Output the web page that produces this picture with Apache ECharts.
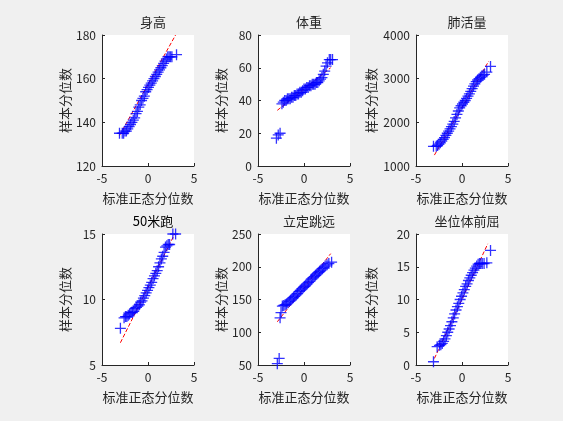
<!DOCTYPE html><html><head><meta charset="utf-8">
<script src="https://cdn.jsdelivr.net/npm/echarts@6/dist/echarts.min.js"></script>
<style>body{margin:0;background:#f0f0f0}#c{width:563px;height:421px}</style></head><body><div id="c"></div>
<script>
const titles=['身高','体重','肺活量','50米跑','立定跳远','坐位体前屈'];
const yRanges=[[120,180,20],[0,80,20],[1000,4000,1000],[5,15,5],[50,250,50],[0,20,5]];
const qx1=[-3.1,-2.8,-2.65,-2.5,-2.35,-2.2,-2.05,-1.9,-1.75,-1.6,-1.45,-1.3,-1.15,-1.0,-0.85,-0.7,-0.55,-0.4,-0.25,-0.1,0.05,0.2,0.35,0.5,0.65,0.8,0.95,1.1,1.25,1.4,1.55,1.7,1.85,2.0,2.15,2.3,2.45,2.6,3.1];
const qy1=[135,135,135,136,136,137,138,139,140,141,142,144,145,147,148,150,151,152,154,155,156,157,158,159,160,161,162,163,164,165,166,167,168,169,170,170,170,170,171];
const qx2=[-3.0,-2.8,-2.6,-2.4,-2.25,-2.1,-1.95,-1.8,-1.65,-1.5,-1.35,-1.2,-1.05,-0.9,-0.75,-0.6,-0.45,-0.3,-0.15,0,0.15,0.3,0.45,0.6,0.75,0.9,1.05,1.2,1.35,1.5,1.65,1.8,1.95,2.1,2.25,2.4,2.55,2.75,2.9,3.1];
const qy2=[17,19,20,38,39,40,40,41,41,41,42,42,43,43,44,44,45,45,46,47,47,48,48,49,49,50,50,50,51,51,52,53,54,56,58,61,63,65,65,65];
const qx3=[-3.1,-2.8,-2.65,-2.5,-2.35,-2.2,-2.05,-1.9,-1.75,-1.6,-1.45,-1.3,-1.15,-1.0,-0.85,-0.7,-0.55,-0.4,-0.25,-0.1,0.05,0.2,0.35,0.5,0.65,0.8,0.95,1.1,1.25,1.4,1.55,1.7,1.85,2.0,2.15,2.3,2.45,2.7,3.1];
const qy3=[1450,1450,1470,1500,1530,1570,1610,1650,1700,1750,1800,1850,1900,1960,2020,2100,2180,2260,2330,2380,2420,2460,2500,2550,2600,2650,2710,2770,2830,2880,2930,2970,3000,3030,3060,3080,3100,3150,3280];
const qx4=[-3.0,-2.6,-2.45,-2.3,-2.15,-2.0,-1.85,-1.7,-1.55,-1.4,-1.25,-1.1,-0.95,-0.8,-0.65,-0.5,-0.35,-0.2,-0.05,0.1,0.25,0.4,0.55,0.7,0.85,1.0,1.15,1.3,1.45,1.6,1.75,1.9,2.05,2.2,2.35,2.7,3.0];
const qy4=[7.8,8.6,8.7,8.7,8.8,8.9,9.0,9.0,9.1,9.3,9.4,9.5,9.6,9.8,9.9,10.1,10.3,10.5,10.7,10.9,11.1,11.3,11.6,11.8,12.0,12.2,12.5,12.8,13.1,13.3,13.6,14.0,14.1,14.2,14.2,15.0,15.0];
const qx5=[-2.9,-2.7,-2.6,-2.5,-2.35,-2.2,-2.05,-1.9,-1.75,-1.6,-1.45,-1.3,-1.15,-1.0,-0.85,-0.7,-0.55,-0.4,-0.25,-0.1,0.05,0.2,0.35,0.5,0.65,0.8,0.95,1.1,1.25,1.4,1.55,1.7,1.85,2.0,2.15,2.3,2.5,2.7,3.0];
const qy5=[52,60,122,130,140,141,142,143,145,147,149,151,153,155,157,159,162,164,166,168,170,172,174,176,178,181,183,185,187,189,191,193,195,197,199,201,203,205,207];
const qx6=[-3.1,-2.7,-2.45,-2.3,-2.15,-2.0,-1.85,-1.7,-1.55,-1.4,-1.25,-1.1,-0.95,-0.8,-0.65,-0.5,-0.35,-0.2,-0.05,0.1,0.25,0.4,0.55,0.7,0.85,1.0,1.15,1.3,1.45,1.6,1.75,1.9,2.05,2.2,2.4,2.7,3.1];
const qy6=[0.5,2.8,3.0,3.1,3.3,3.6,4.0,4.5,5.0,5.5,6.0,6.6,7.2,7.8,8.4,8.9,9.4,10.0,10.5,11.0,11.5,12.0,12.4,12.9,13.3,13.7,14.1,14.5,14.8,15.1,15.4,15.5,15.5,15.5,15.5,15.6,17.5];
const lineX=[[-3.1,3.0],[-2.9,2.9],[-3.0,2.9],[-3.0,2.9],[-2.9,2.9],[-3.0,2.8]];
const lineY=[[134,180],[34,60],[1250,3400],[6.7,15],[116,220],[1,18.5]];
const QX=[qx1,qx2,qx3,qx4,qx5,qx6],QY=[qy1,qy2,qy3,qy4,qy5,qy6];
const lefts=[102,258,416],tops=[35,234];
const font='"Noto Sans CJK SC", sans-serif',tc='#262626';
const grid=[],xAxis=[],yAxis=[],series=[],title=[];
for(let i=0;i<6;i++){
 const l=lefts[i%3],t=tops[Math.floor(i/3)];
 grid.push({left:l,top:t,width:92,height:131,backgroundColor:'#fff',show:true,borderWidth:0});
 title.push({text:titles[i],left:l+46,top:t-24,textAlign:'center',textStyle:{fontFamily:font,fontSize:13,fontWeight:'normal',color:i==3?'#000':tc}});
 const al={show:true,onZero:false,lineStyle:{color:tc}};
 xAxis.push({gridIndex:i,type:'value',min:-5,max:5,interval:5,axisLine:al,axisTick:{show:true,inside:true,length:3,lineStyle:{color:tc}},splitLine:{show:false},
  axisLabel:{fontFamily:font,fontSize:12,color:tc,margin:6},name:'标准正态分位数',nameLocation:'middle',nameGap:26,nameTextStyle:{fontFamily:font,fontSize:13,color:tc}});
 const r=yRanges[i];
 yAxis.push({gridIndex:i,type:'value',min:r[0],max:r[1],interval:r[2],axisLine:al,axisTick:{show:true,inside:true,length:3,lineStyle:{color:tc}},splitLine:{show:false},
  axisLabel:{fontFamily:font,fontSize:12,color:tc,margin:6,formatter:v=>String(v)},name:'样本分位数',nameLocation:'middle',nameGap:i%3==2?38:30,nameTextStyle:{fontFamily:font,fontSize:13,color:tc}});
 series.push({type:'line',xAxisIndex:i,yAxisIndex:i,data:lineX[i].map((x,k)=>[x,lineY[i][k]]),symbol:'none',lineStyle:{color:'#ff0000',type:'dashed',width:1},z:1});
 series.push({type:'scatter',xAxisIndex:i,yAxisIndex:i,data:QX[i].map((x,k)=>[x,QY[i][k]]),symbol:'path://M0,-1V1M-1,0H1',symbolSize:11,
  itemStyle:{color:'rgba(0,0,0,0)',borderColor:'#0000ff',borderWidth:1.3},z:2});
}
const ch=echarts.init(document.getElementById('c'));
ch.setOption({backgroundColor:'#f0f0f0',animation:false,title,grid,xAxis,yAxis,series});
</script></body></html>
